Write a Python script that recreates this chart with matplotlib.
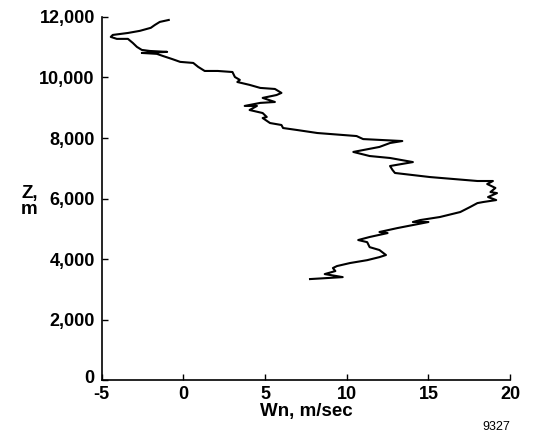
import matplotlib
matplotlib.use('Agg')
import matplotlib.pyplot as plt
from matplotlib.transforms import ScaledTranslation

# wind component profile, top of sounding first
wn = [-0.9, -1.45, -1.75, -2.0, -2.67, -3.4, -4.33, -4.45, -4.08, -3.4,
      -3.1, -2.85, -2.55, -2.05, -1.0, -2.55, -1.63, -1.26, -0.7, -0.2,
      0.6, 0.9, 1.3, 2.1, 3.0, 3.15, 3.45, 3.3, 4.05, 4.7,
      5.6, 6.0, 5.7, 4.85, 5.6, 4.7, 3.75, 4.5, 4.05, 4.85,
      5.1, 4.85, 5.3, 6.0, 6.1, 6.95, 8.2, 10.6, 11.0, 13.4,
      12.65, 12.0, 10.4, 11.4, 12.65, 14.05, 12.65, 12.8, 12.95, 15.1,
      18.0, 18.95, 18.6, 19.1, 18.8, 19.2, 18.65, 19.15, 18.35, 18.0,
      17.55, 16.95, 15.7, 14.5, 14.05, 15.0, 14.05, 13.1, 12.0, 12.5,
      11.4, 10.7, 11.25, 11.4, 12.0, 12.4, 12.0, 11.25, 10.2, 9.4,
      9.15, 9.3, 8.65, 9.75, 7.75]
z = [11900, 11835, 11735, 11640, 11540, 11470, 11405, 11340, 11275, 11275,
     11140, 11010, 10910, 10875, 10845, 10810, 10780, 10710, 10610, 10515,
     10480, 10350, 10215, 10215, 10180, 10015, 9920, 9850, 9755, 9655,
     9620, 9490, 9420, 9325, 9190, 9160, 9060, 9060, 8925, 8825,
     8695, 8660, 8495, 8430, 8330, 8265, 8165, 8065, 7965, 7900,
     7835, 7705, 7540, 7405, 7340, 7205, 7075, 6945, 6845, 6710,
     6580, 6580, 6480, 6350, 6215, 6180, 6050, 5950, 5885, 5850,
     5720, 5555, 5390, 5290, 5225, 5225, 5125, 5025, 4895, 4860,
     4730, 4630, 4560, 4395, 4300, 4135, 4065, 3965, 3870, 3770,
     3705, 3605, 3505, 3405, 3340]

xticks = [-5, 0, 5, 10, 15, 20]
yticks = [0, 2000, 4000, 6000, 8000, 10000, 12000]

plt.rcParams['font.family'] = ['Liberation Sans', 'DejaVu Sans']

fig = plt.figure(figsize=(5.33, 4.34), dpi=100)
ax = fig.add_axes([0.191, 0.124, 0.766, 0.837])

ax.plot(wn, z, color='black', linewidth=1.5)

ax.set_xlim(-5, 20)
ax.set_ylim(0, 12000)
ax.set_xticks(xticks)
ax.set_yticks(yticks)
ax.set_xticklabels([str(t) for t in xticks], fontsize=13, fontweight='bold')
ax.set_yticklabels(['{:,}'.format(t) for t in yticks], fontsize=13, fontweight='bold')
ax.tick_params(direction='in', length=4, width=1)
ax.tick_params(axis='x', pad=4)
ax.tick_params(axis='y', pad=5)
# lift the "0" of the height axis a few pixels so it clears the "-5"
lbl0 = ax.get_yticklabels()[0]
lbl0.set_transform(lbl0.get_transform() + ScaledTranslation(0, 3 / 72, fig.dpi_scale_trans))

ax.spines['top'].set_visible(False)
ax.spines['right'].set_visible(False)
ax.spines['left'].set_linewidth(1.2)
ax.spines['bottom'].set_linewidth(1.2)

ax.set_xlabel('Wn, m/sec', fontsize=13.5, fontweight='bold', labelpad=0)
fig.text(0.055, 0.535, 'Z,\nm', fontsize=13.5, fontweight='bold',
         ha='center', va='center', linespacing=0.95)
fig.text(0.932, 0.016, '9327', fontsize=9, ha='center', va='center')

fig.savefig('out.png', dpi=100)
